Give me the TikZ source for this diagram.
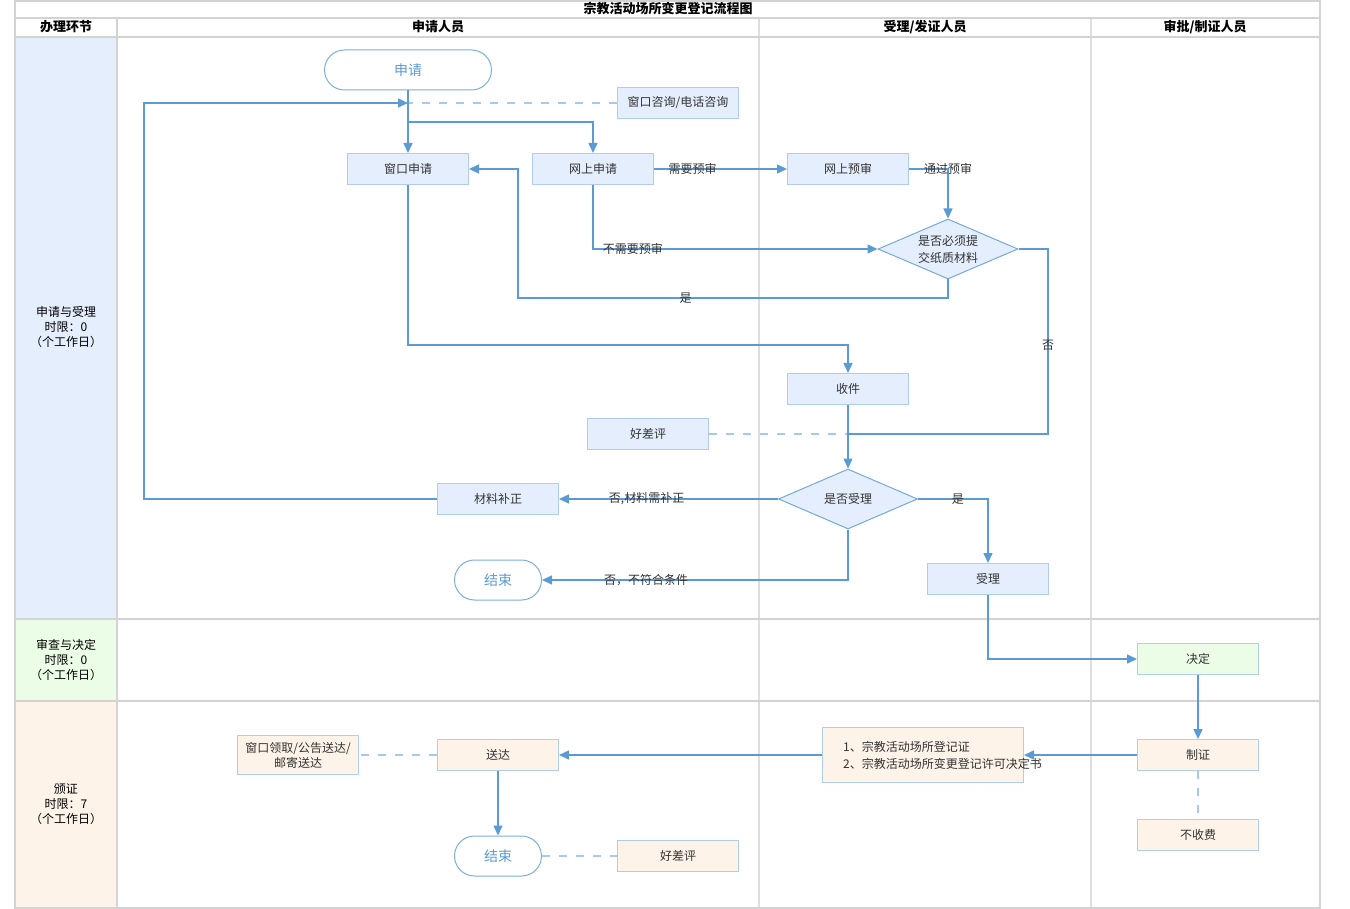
\documentclass[tikz,border=0pt]{standalone}
\usepackage{fontspec}
\setmainfont{Noto Sans CJK SC}
\usetikzlibrary{shapes.geometric,arrows.meta}
\definecolor{lineblue}{HTML}{5B9BD5}
\definecolor{dashblue}{HTML}{A9C9EC}
\definecolor{boxblue}{HTML}{E4EEFD}
\definecolor{boxborder}{HTML}{AFCDEF}
\definecolor{boxorange}{HTML}{FEF3E8}
\definecolor{boxgreen}{HTML}{EBFDE6}
\definecolor{gridgray}{HTML}{D3D3D3}
\definecolor{gridlight}{HTML}{DEDEDE}
\definecolor{txt}{HTML}{333333}
\begin{document}
\begin{tikzpicture}[x=1pt,y=-1pt,
  proc/.style={draw=boxborder, line width=1, fill=boxblue, minimum width=121, minimum height=31, inner sep=0, font=\fontsize{12}{15}\selectfont, text=txt, align=center},
  procO/.style={proc, fill=boxorange},
  procG/.style={proc, fill=boxgreen},
  term/.style={draw=lineblue!80, line width=1, fill=white, rounded corners=20, minimum width=87, minimum height=40, inner sep=0, font=\fontsize{14}{16}\selectfont, text=lineblue},
  decis/.style={diamond, draw=lineblue!85, line width=1, fill=boxblue, minimum width=140, minimum height=60, aspect=2.33, inner sep=0, font=\fontsize{12}{17}\selectfont, text=txt, align=center},
  conn/.style={draw=lineblue, line width=1.5, -{Triangle[length=10,width=9]}},
  plain/.style={draw=lineblue, line width=1.5},
  dsh/.style={draw=dashblue, line width=1.5, dash pattern=on 8 off 9},
  lbl/.style={font=\fontsize{12}{14}\selectfont, text=txt, inner sep=0},
  hdr/.style={font=\bfseries\fontsize{13}{15}\selectfont, text=black},
  lane/.style={font=\fontsize{12}{15}\selectfont, text=black, align=center}
]
\useasboundingbox (0,0) rectangle (1350,909);
% lane fills
\fill[boxblue] (15,37) rectangle (117,619);
\fill[boxgreen] (15,619) rectangle (117,701);
\fill[boxorange] (15,701) rectangle (117,908);
% grid
\draw[gridlight, line width=1.5] (759,18) -- (759,908);
\draw[gridlight, line width=1.5] (1091,18) -- (1091,908);
\draw[gridgray, line width=2] (15,18) -- (1320,18);
\draw[gridgray, line width=2.5] (15,37) -- (1320,37);
\draw[gridgray, line width=2.5] (15,619) -- (1320,619);
\draw[gridgray, line width=2.5] (15,701) -- (1320,701);
\draw[gridgray, line width=2.5] (117,18) -- (117,908);
\draw[gridgray, line width=2] (15,1) rectangle (1320,908);
% headers
\node[hdr] (title) at (668,9) {宗教活动场所变更登记流程图};
\node[hdr] (h0) at (66,27) {办理环节};
\node[hdr] (h1) at (438,27) {申请人员};
\node[hdr] (h2) at (925,27) {受理/发证人员};
\node[hdr] (h3) at (1205,27) {审批/制证人员};
\node[lane] (l1) at (66,327) {申请与受理\\时限：0\\（个工作日）};
\node[lane] (l2) at (66,660) {审查与决定\\时限：0\\（个工作日）};
\node[lane] (l3) at (66,804) {颁证\\时限：7\\（个工作日）};
% nodes
\node[term, minimum width=167] (sq) at (408,70) {申请};
\node[proc] (zx) at (678,103) {窗口咨询/电话咨询};
\node[proc] (ck) at (408,169) {窗口申请};
\node[proc] (wsq) at (593,169) {网上申请};
\node[proc] (ws) at (848,169) {网上预审};
\node[decis] (d1) at (948,249) {是否必须提\\交纸质材料};
\node[proc] (sj) at (848,389) {收件};
\node[proc] (hp1) at (648,434) {好差评};
\node[decis, minimum width=139] (d2) at (848,499) {是否受理};
\node[proc] (bz) at (498,499) {材料补正};
\node[term] (end1) at (498,580) {结束};
\node[proc] (sl) at (988,579) {受理};
\node[procG] (jd) at (1198,659) {决定};
\node[procO] (zz) at (1198,755) {制证};
\node[procO] (bsf) at (1198,835) {不收费};
\node[procO, minimum width=201, minimum height=55] (zs) at (923,755) {};
\node[lbl, anchor=west, align=left, font=\fontsize{12}{17}\selectfont] (zst) at (843,755) {1、宗教活动场所登记证\\2、宗教活动场所变更登记许可决定书};
\node[procO] (sd) at (498,755) {送达};
\node[procO, minimum height=39] (lq) at (298,755) {窗口领取/公告送达/\\邮寄送达};
\node[term] (end2) at (498,856) {结束};
\node[procO] (hp2) at (678,856) {好差评};
% junction coordinates
\coordinate (j1) at (408,103);
\coordinate (j2) at (408,122);
\coordinate (j3) at (848,434);
% connectors
\draw[dsh] (zx.west) -- (j1);
\draw[conn] (sq.south) -- (ck.north);
\draw[conn] (j2) -| (wsq.north);
\draw[conn] (bz.west) -- (144,499) -- (144,103) -- (j1);
\draw[conn] (wsq.east) -- node[lbl, pos=0.29]{需要预审} (ws.west);
\draw[conn] (ws.east) -- (948,169) node[lbl]{通过预审} -- (d1.north);
\draw[conn] (wsq.south) |- node[lbl, pos=0.57]{不需要预审} (d1.west);
\draw[conn] (d1.south) -- (948,298) -- node[lbl, pos=0.61]{是} (518,298) -- (518,169) -- (ck.east);
\draw[plain] (d1.east) -- (1048,249) -- node[lbl, pos=0.52]{否} (1048,434) -- (j3);
\draw[conn] (ck.south) -- (408,345) -| (sj.north);
\draw[dsh] (hp1.east) -- (j3);
\draw[conn] (sj.south) -- (d2.north);
\draw[conn] (d2.west) -- node[lbl, pos=0.6]{否,材料需补正} (bz.east);
\draw[conn] (d2.south) |- node[lbl, pos=0.83]{否，不符合条件} (end1.east);
\draw[conn] (d2.east) -- node[lbl, pos=0.57]{是} (988,499) -- (sl.north);
\draw[conn] (sl.south) |- (jd.west);
\draw[conn] (jd.south) -- (zz.north);
\draw[conn] (zz.west) -- (zs.east);
\draw[conn] (zs.west) -- (sd.east);
\draw[dsh] (sd.west) -- (lq.east);
\draw[conn] (sd.south) -- (end2.north);
\draw[dsh] (end2.east) -- (hp2.west);
\draw[dsh] (zz.south) -- (bsf.north);
\end{tikzpicture}
\end{document}
